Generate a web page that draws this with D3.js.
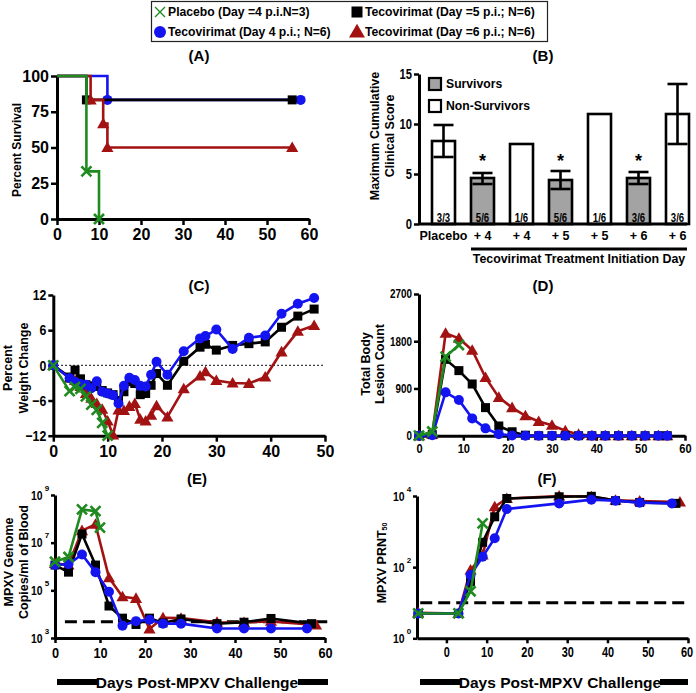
<!DOCTYPE html>
<html><head><meta charset="utf-8">
<script src="https://cdn.jsdelivr.net/npm/d3@7"></script>
<style>
body{margin:0;background:#fff;}
svg{display:block;font-family:"Liberation Sans",Arial,sans-serif;font-weight:bold;}
</style></head><body><svg id="c" width="696" height="693"></svg>
<script>
// ---------------- DATA ----------------
const groupNames = ["Placebo (Day =4 p.i.N=3)", "Tecovirimat (Day 4 p.i.; N=6)", "Tecovirimat (Day =5 p.i.; N=6)", "Tecovirimat (Day =6 p.i.; N=6)"];
const groupColors = ["#1f8a1f", "#1414f0", "#000000", "#a31212"];
const groupMarkers = ["x", "circle", "square", "triangle"];

// (A) survival
const survPlaceboDays = [0, 7, 10], survPlacebo = [100, 33.3, 0];
const survDay4Days = [0, 12, 58], survDay4 = [100, 83.3, 83.3];
const survDay5Days = [0, 7, 56], survDay5 = [100, 83.3, 83.3];
const survDay6Days = [0, 8, 11, 12, 56], survDay6 = [100, 83.3, 66.7, 50, 50];
const survTicksX = [0, 10, 20, 30, 40, 50, 60];
const survTicksY = [0, 25, 50, 75, 100];

// (B) max cumulative clinical score
const scoreCategories = ["Placebo", "+4", "+4 ", "+5", "+5 ", "+6", "+6 "];
const scoreLabels = ["Placebo", "+ 4", "+ 4", "+ 5", "+ 5", "+ 6", "+ 6"];
const scoreMeans = [8.3, 4.6, 8, 4.4, 11, 4.6, 11];
const scoreLow = [6.7, 4.0, 8, 3.5, 11, 4.0, 8];
const scoreHigh = [9.9, 5.1, 8, 5.3, 11, 5.2, 14];
const scoreSurvivor = [false, true, false, true, false, true, false];
const scoreCounts = ["3/3", "5/6", "1/6", "5/6", "1/6", "3/6", "3/6"];
const scoreStar = [false, true, false, true, false, true, false];
const scoreTicksY = [0, 5, 10, 15];

// (C) percent weight change
const weightDays = [0, 3, 4, 5, 6, 7, 8, 9, 10, 11, 12, 13, 14, 15, 16, 17, 18, 19, 21, 24, 27, 28, 30, 33, 36, 39, 42, 45, 48];
const weightDay4 = [0, -2.2, -2.8, -3.2, -3.3, -3.9, -2.7, -4.5, -4.8, -5.1, -6.5, -3.5, -2.1, -2.5, -3.5, -3.6, -1.6, 0.6, -1.6, 2.4, 4.6, 5.0, 6.1, 2.8, 4.7, 5.1, 8.8, 10.5, 11.5];
const weightDay5 = [0, -2.0, -0.8, -2.3, -3.3, -3.5, -3.6, -4.3, -4.7, -5.0, -6.0, -4.5, -2.8, -3.1, -5.0, -4.8, -3.4, -1.4, -3.4, 0.7, 3.1, 3.6, 2.6, 3.4, 3.7, 4.0, 6.5, 8.4, 9.6];
const weightDay6 = [0, -2.2, -2.6, -3.6, -4.8, -5.6, -6.5, -7.5, -9.5, -11.9, -7.6, -7.7, -7.0, -6.5, -9.2, -9.5, -8.5, -6.9, -8.8, -4.0, -1.8, -1.1, -2.6, -3.0, -3.1, -2.0, 2.3, 5.8, 6.8];
const weightPlaceboDays = [0, 3, 4, 5, 6, 7, 8, 9, 10];
const weightPlacebo = [0, -4.4, -3.7, -4.0, -5.3, -6.7, -7.6, -9.8, -12];
const weightTicksX = [0, 10, 20, 30, 40, 50];
const weightTicksY = [-12, -6, 0, 6, 12];

// (D) total body lesion count
const lesionDays = [0, 3, 6, 9, 12, 15, 18, 21, 24, 27, 30, 33, 36, 39, 42, 45, 48, 51, 54, 56];
const lesionDay4 = [0, 10, 826, 680, 330, 140, 30, 5, 0, 0, 0, 0, 0, 0, 0, 0, 0, 0, 0, 0];
const lesionDay5 = [0, 20, 1455, 1240, 985, 535, 185, 75, 10, 0, 0, 0, 0, 0, 0, 0, 0, 0, 0, 0];
const lesionDay6 = [0, 30, 1950, 1855, 1630, 1110, 730, 535, 380, 270, 200, 95, 25, 0, 0, 0, 0, 0, 0, 0];
const lesionPlaceboDays = [0, 3, 6, 9];
const lesionPlacebo = [0, 80, 1506, 1728];
const lesionTicksX = [0, 10, 20, 30, 40, 50, 60];
const lesionTicksY = [0, 900, 1800, 2700];

// (E) MPXV genome copies / ml blood
const viremiaDays = [0, 3, 6, 9, 12, 15, 18, 21, 24, 28, 36, 42, 48];
const viremiaDay4Days = viremiaDays.concat([56]);
const viremiaDay4 = [1.15e6, 1.26e6, 3.2e6, 5.8e5, 8.7e4, 3.3e3, 5.1e3, 5.8e3, 4.0e3, 4.0e3, 2.5e3, 2.5e3, 2.5e3, 2.5e3];
const viremiaDay5Days = viremiaDays.concat([57]);
const viremiaDay5 = [1.15e6, 5.8e5, 2.3e7, 1.15e6, 2.2e4, 6.8e3, 3.7e3, 6.8e3, 4.3e3, 6.3e3, 4.0e3, 4.6e3, 6.6e3, 4.0e3];
const viremiaDay6Days = viremiaDays.concat([58]);
const viremiaDay6 = [1.35e6, 1.15e6, 3.2e7, 5.9e7, 3.4e5, 5.4e4, 4.6e4, 2.4e3, 7.1e3, 6.8e3, 4.6e3, 4.5e3, 5.0e3, 3.5e3];
const viremiaPlaceboDays = [0, 3, 6, 9, 10];
const viremiaPlacebo = [1.58e6, 2.5e6, 2.5e8, 2.1e8, 4.3e7];
const viremiaLOD = 4.8e3;
const viremiaTicksX = [0, 10, 20, 30, 40, 50, 60];
const viremiaTicksY = [1e3, 1e5, 1e7, 1e9];

// (F) PRNT50
const prntDay4Days = [-7, 3, 6, 9, 12, 15, 28, 36, 42, 48, 56];
const prntDay4 = [5, 5, 60, 195, 650, 4300, 6200, 7900, 7400, 6500, 6200];
const prntDay5Days = [-7, 3, 6, 9, 12, 15, 28, 36, 42, 48, 57];
const prntDay5 = [5, 5, 39, 500, 2600, 8500, 9500, 9800, 7400, 6600, 6200];
const prntDay6Days = [-7, 3, 6, 9, 12, 15, 28, 36, 42, 48, 58];
const prntDay6 = [5.2, 5, 83, 220, 5000, 8500, 10000, 9500, 7600, 7200, 6800];
const prntPlaceboDays = [-7, 3, 6, 9];
const prntPlacebo = [5, 5, 21, 1700];
const prntLOD = 10;
const prntTicksX = [0, 10, 20, 30, 40, 50, 60];
const prntTicksY = [1, 100, 10000];

// ---------------- DRAWING ----------------
const REG = '"Liberation Sans", Arial, sans-serif';
const svg = d3.select("#c");

function condense(sel, f) {
  sel.each(function() {
    const l = this.getComputedTextLength();
    d3.select(this).attr("textLength", (l * f).toFixed(2)).attr("lengthAdjust", "spacingAndGlyphs");
  });
}
function styleAxis(g, size, narrow) {
  g.attr("font-family", REG).attr("font-size", size).attr("font-weight", "bold");
  g.select(".domain").attr("stroke-width", 3).attr("stroke", "#000");
  g.selectAll(".tick line").attr("stroke-width", 2.5).attr("stroke", "#000");
  g.selectAll(".tick text").attr("fill", "#000");
  if (narrow) condense(g.selectAll(".tick text"), narrow);
}

function marker(g, type, color, x, y) {
  if (type === "circle") g.append("circle").attr("cx", x).attr("cy", y).attr("r", 5).attr("fill", color);
  else if (type === "square") g.append("rect").attr("x", x - 4.5).attr("y", y - 4.5).attr("width", 9).attr("height", 9).attr("fill", color);
  else if (type === "triangle") g.append("path").attr("d", d3.symbol(d3.symbolTriangle, 64)()).attr("transform", `translate(${x},${y + 1})`).attr("fill", color);
  else g.append("path").attr("d", "M-5,-5L5,5M-5,5L5,-5").attr("transform", `translate(${x},${y})`).attr("stroke", color).attr("stroke-width", 2.6).attr("fill", "none");
}

function series(g, xs, ys, sx, sy, gi, opts = {}) {
  const pts = xs.map((d, i) => [sx(d), sy(ys[i])]);
  g.append("path").attr("d", d3.line().curve(opts.curve || d3.curveLinear)(pts))
    .attr("fill", "none").attr("stroke", groupColors[gi]).attr("stroke-width", 2.6);
  const mk = opts.markerIdx ? opts.markerIdx.map(i => pts[i]) : pts;
  mk.forEach(p => marker(g, groupMarkers[gi], groupColors[gi], p[0], p[1]));
}

function title(txt, x, y) {
  svg.append("text").attr("x", x).attr("y", y).attr("text-anchor", "middle").attr("dominant-baseline", "central")
    .attr("font-size", 15).attr("font-weight", "bold").text(txt);
}
function ylab(lines, xs, y, size) {
  lines.forEach((t, i) => {
    svg.append("text").attr("transform", `translate(${xs[i]},${y}) rotate(-90)`).attr("text-anchor", "middle")
      .attr("dominant-baseline", "central").attr("font-size", size || 12).attr("font-weight", "bold").text(t);
  });
}
// power-of-ten labels: base "10" and a separate small exponent text
function supTicks(g) {
  g.selectAll(".tick").each(function(d) {
    const tk = d3.select(this);
    const base = tk.select("text");
    base.text("10").attr("x", -12.5);
    condense(base, 0.8);
    tk.append("text").attr("x", -10.3).attr("y", -5).attr("text-anchor", "start").attr("font-size", 8)
      .attr("font-weight", "bold").attr("fill", "#000").text(Math.round(Math.log10(d)));
  });
}
function daysLabel(cx, x1, x2, tx1, tx2) {
  svg.append("rect").attr("x", x1).attr("y", 679).attr("width", tx1 - x1).attr("height", 6).attr("fill", "#000");
  svg.append("rect").attr("x", tx2).attr("y", 679).attr("width", x2 - tx2).attr("height", 6).attr("fill", "#000");
  svg.append("text").attr("x", cx).attr("y", 682).attr("text-anchor", "middle").attr("dominant-baseline", "central")
    .attr("font-size", 15.5).attr("font-weight", "bold").text("Days Post-MPXV Challenge");
}

// ---- Legend ----
(function() {
  const g = svg.append("g");
  g.append("rect").attr("x", 151.5).attr("y", 1.5).attr("width", 396).attr("height", 40).attr("fill", "#fff").attr("stroke", "#222").attr("stroke-width", 1.2);
  const pos = [[160, 12], [160, 32], [357, 12], [357, 32]];
  groupNames.forEach((n, i) => {
    const [x, y] = pos[i];
    if (i === 0) g.append("path").attr("d", "M-5,-5L5,5M-5,5L5,-5").attr("transform", `translate(${x},${y})`).attr("stroke", groupColors[0]).attr("stroke-width", 1.4).attr("fill", "none");
    else if (i === 1) g.append("circle").attr("cx", x).attr("cy", y).attr("r", 6).attr("fill", groupColors[1]);
    else if (i === 2) g.append("rect").attr("x", x - 5.5).attr("y", y - 5.5).attr("width", 11).attr("height", 11).attr("fill", groupColors[2]);
    else g.append("path").attr("d", d3.symbol(d3.symbolTriangle, 110)()).attr("transform", `translate(${x},${y + 1})`).attr("fill", groupColors[3]);
    g.append("text").attr("x", x + 8).attr("y", y).attr("dominant-baseline", "central").attr("font-size", 12.2).attr("font-weight", "bold").text(n);
  });
})();

// ---- (A) ----
(function() {
  const x = d3.scaleLinear().domain([0, 60]).range([57, 309]);
  const y = d3.scaleLinear().domain([0, 100]).range([219, 76]);
  const ax = svg.append("g").attr("transform", "translate(0,219)").call(d3.axisBottom(x).tickValues(survTicksX).tickSize(6).tickSizeOuter(0).tickPadding(4));
  styleAxis(ax, 16, 0);
  const ay = svg.append("g").attr("transform", "translate(57,0)").call(d3.axisLeft(y).tickValues(survTicksY).tickSize(6).tickSizeOuter(0).tickPadding(2));
  styleAxis(ay, 16, 0);
  const g = svg.append("g");
  series(g, survDay4Days, survDay4, x, y, 1, { curve: d3.curveStepAfter, markerIdx: [1, 2] });
  series(g, survDay5Days, survDay5, x, y, 2, { curve: d3.curveStepAfter, markerIdx: [1, 2] });
  series(g, survDay6Days, survDay6, x, y, 3, { curve: d3.curveStepAfter, markerIdx: [1, 2, 3, 4] });
  series(g, survPlaceboDays, survPlacebo, x, y, 0, { curve: d3.curveStepAfter, markerIdx: [1, 2] });
  title("(A)", 199, 55);
  ylab(["Percent Survival"], [17], 150, 12);
})();

// ---- (B) ----
(function() {
  const x = d3.scaleBand().domain(scoreCategories).range([424, 697]).paddingInner(0.41).paddingOuter(0.205);
  const y = d3.scaleLinear().domain([0, 15]).range([224, 74]);
  const g = svg.append("g");
  scoreCategories.forEach((c, i) => {
    const bx = x(c), bw = x.bandwidth();
    g.append("rect").attr("x", bx).attr("y", y(scoreMeans[i])).attr("width", bw).attr("height", y(0) - y(scoreMeans[i]))
      .attr("fill", scoreSurvivor[i] ? "#a3a3a3" : "#fff").attr("stroke", "#000").attr("stroke-width", 2.6);
    const cx = bx + bw / 2;
    if (scoreHigh[i] !== scoreLow[i]) {
      g.append("line").attr("x1", cx).attr("x2", cx).attr("y1", y(scoreLow[i])).attr("y2", y(scoreHigh[i])).attr("stroke", "#000").attr("stroke-width", 2.6);
      [scoreLow[i], scoreHigh[i]].forEach(v => g.append("line").attr("x1", cx - 10).attr("x2", cx + 10).attr("y1", y(v)).attr("y2", y(v)).attr("stroke", "#000").attr("stroke-width", 2.6));
    }
    const ct = g.append("text").attr("x", cx).attr("y", 218).attr("text-anchor", "middle").attr("dominant-baseline", "central")
      .attr("font-size", 12).attr("font-weight", "bold").text(scoreCounts[i]);
    condense(ct, 0.8);
    if (scoreStar[i]) g.append("text").attr("x", cx).attr("y", 167).attr("text-anchor", "middle").attr("font-size", 18).attr("font-weight", "bold").text("*");
  });
  const ay = svg.append("g").attr("transform", "translate(419,0)").call(d3.axisLeft(y).tickValues(scoreTicksY).tickSize(5).tickSizeOuter(0).tickPadding(2));
  styleAxis(ay, 14, 0.8);
  const ax = svg.append("g").attr("transform", "translate(0,224)").call(d3.axisBottom(x).tickSize(0).tickPadding(7).tickFormat((d, i) => scoreLabels[i]));
  styleAxis(ax, 12.5, 0);
  ax.select(".domain").attr("d", "M419,0H687");
  svg.append("line").attr("x1", 471).attr("x2", 687).attr("y1", 249).attr("y2", 249).attr("stroke", "#000").attr("stroke-width", 3);
  svg.append("text").attr("x", 579).attr("y", 259).attr("text-anchor", "middle").attr("dominant-baseline", "central")
    .attr("font-size", 12.4).attr("font-weight", "bold").text("Tecovirimat Treatment Initiation Day");
  // legend
  [["Survivors", "#a3a3a3", 84], ["Non-Survivors", "#fff", 106]].forEach(([t, f, yy]) => {
    svg.append("rect").attr("x", 429).attr("y", yy - 6).attr("width", 12).attr("height", 12).attr("fill", f).attr("stroke", "#000").attr("stroke-width", 2.2);
    svg.append("text").attr("x", 446).attr("y", yy).attr("dominant-baseline", "central").attr("font-size", 12.2).attr("font-weight", "bold").text(t);
  });
  title("(B)", 543, 55);
  ylab(["Maximum Cumulative", "Clinical Score"], [375, 390], 136, 12.5);
})();

// ---- (C) ----
(function() {
  const x = d3.scaleLinear().domain([0, 50]).range([53.3, 325]);
  const y = d3.scaleLinear().domain([-12, 12]).range([435.7, 295]);
  svg.append("line").attr("x1", x(0)).attr("x2", x(50)).attr("y1", y(0)).attr("y2", y(0)).attr("stroke", "#000").attr("stroke-width", 1.3).attr("stroke-dasharray", "1.5,2.5");
  const ax = svg.append("g").attr("transform", "translate(0,435.7)").call(d3.axisBottom(x).tickValues(weightTicksX).tickSize(6).tickSizeOuter(0).tickPadding(4));
  styleAxis(ax, 16, 0);
  const ay = svg.append("g").attr("transform", "translate(53.3,0)").call(d3.axisLeft(y).tickValues(weightTicksY).tickSize(5).tickSizeOuter(0).tickPadding(2));
  styleAxis(ay, 15, 0.82);
  const g = svg.append("g");
  series(g, weightDays, weightDay6, x, y, 3);
  series(g, weightDays, weightDay5, x, y, 2);
  series(g, weightDays, weightDay4, x, y, 1);
  series(g, weightPlaceboDays, weightPlacebo, x, y, 0);
  title("(C)", 199, 285);
  ylab(["Percent", "Weight Change"], [8, 24], 368, 12.5);
})();

// ---- (D) ----
(function() {
  const x = d3.scaleLinear().domain([0, 60]).range([419, 685]);
  const y = d3.scaleLinear().domain([0, 2700]).range([435.7, 294]);
  const ax = svg.append("g").attr("transform", "translate(0,435.7)").call(d3.axisBottom(x).tickValues(lesionTicksX).tickSize(5).tickSizeOuter(0).tickPadding(3));
  styleAxis(ax, 13.5, 0.82);
  const ay = svg.append("g").attr("transform", "translate(419,0)").call(d3.axisLeft(y).tickValues(lesionTicksY).tickFormat(d3.format("d")).tickSize(5).tickSizeOuter(0).tickPadding(2));
  styleAxis(ay, 12, 0.82);
  const g = svg.append("g");
  series(g, lesionDays, lesionDay6, x, y, 3);
  series(g, lesionDays, lesionDay5, x, y, 2);
  series(g, lesionDays, lesionDay4, x, y, 1);
  series(g, lesionPlaceboDays, lesionPlacebo, x, y, 0);
  title("(D)", 543, 285);
  ylab(["Total Body", "Lesion Count"], [366, 380], 364, 12.5);
})();

// ---- (E) ----
(function() {
  const x = d3.scaleLinear().domain([0, 60]).range([55, 325]);
  const y = d3.scaleLog().domain([1e3, 1e9]).range([638, 495]);
  svg.append("line").attr("x1", x(2.2)).attr("x2", x(60.5)).attr("y1", y(viremiaLOD)).attr("y2", y(viremiaLOD)).attr("stroke", "#000").attr("stroke-width", 3).attr("stroke-dasharray", "12,6");
  const ax = svg.append("g").attr("transform", "translate(0,638)").call(d3.axisBottom(x).tickValues(viremiaTicksX).tickSize(5).tickSizeOuter(0).tickPadding(4));
  styleAxis(ax, 15.5, 0.82);
  const ay = svg.append("g").attr("transform", "translate(55,0)").call(d3.axisLeft(y).tickValues(viremiaTicksY).tickSize(4).tickSizeOuter(0).tickPadding(2));
  styleAxis(ay, 13, 0);
  supTicks(ay);
  const g = svg.append("g");
  series(g, viremiaDay6Days, viremiaDay6, x, y, 3);
  series(g, viremiaDay5Days, viremiaDay5, x, y, 2);
  series(g, viremiaDay4Days, viremiaDay4, x, y, 1);
  series(g, viremiaPlaceboDays, viremiaPlacebo, x, y, 0);
  title("(E)", 197, 478);
  ylab(["MPXV Genome", "Copies/ml of Blood"], [9, 24], 562, 12.5);
  daysLabel(197, 57, 328, 97, 298);
})();

// ---- (F) ----
(function() {
  const x = d3.scaleLinear().domain([-7.3, 60]).range([417, 688]);
  const y = d3.scaleLog().domain([1, 1e4]).range([638.3, 496]);
  svg.append("line").attr("x1", x(-6.5)).attr("x2", x(59.5)).attr("y1", y(prntLOD)).attr("y2", y(prntLOD)).attr("stroke", "#000").attr("stroke-width", 3).attr("stroke-dasharray", "12,6");
  const ax = svg.append("g").attr("transform", "translate(0,638.3)").call(d3.axisBottom(x).tickValues(prntTicksX).tickSize(5).tickSizeOuter(0).tickPadding(4));
  styleAxis(ax, 14, 0.78);
  ax.selectAll(".tick text").filter(d => d === 60).attr("dx", "-1.5");
  const ay = svg.append("g").attr("transform", "translate(417,0)").call(d3.axisLeft(y).tickValues(prntTicksY).tickSize(4).tickSizeOuter(0).tickPadding(2));
  styleAxis(ay, 13, 0);
  supTicks(ay);
  const g = svg.append("g");
  series(g, prntDay6Days, prntDay6, x, y, 3);
  series(g, prntDay5Days, prntDay5, x, y, 2);
  series(g, prntDay4Days, prntDay4, x, y, 1);
  series(g, prntPlaceboDays, prntPlacebo, x, y, 0);
  title("(F)", 547, 478);
  const t = svg.append("text").attr("transform", "translate(382,563) rotate(-90)").attr("text-anchor", "middle")
    .attr("dominant-baseline", "central").attr("font-size", 12.5).attr("font-weight", "bold");
  t.append("tspan").text("MPXV PRNT");
  t.append("tspan").attr("font-size", 7).attr("dy", "0.35em").text("50");
  daysLabel(560, 420, 688, 460, 660);
})();
</script></body></html>
